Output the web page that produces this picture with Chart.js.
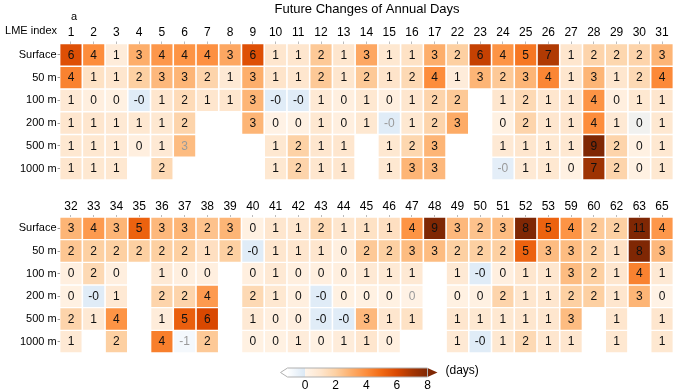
<!DOCTYPE html>
<html>
<head>
<meta charset="utf-8">
<script src="https://cdn.jsdelivr.net/npm/chart.js@4.4.0/dist/chart.umd.min.js"></script>
<style>
  html, body { margin: 0; padding: 0; background: #fff; }
  #wrap { position: relative; width: 700px; height: 392px; }
  canvas { position: absolute; left: 0; }
</style>
</head>
<body>
<div id="wrap">
  <canvas id="topChart" width="700" height="185" style="top:0px"></canvas>
  <canvas id="bottomChart" width="700" height="170" style="top:185px"></canvas>
  <canvas id="barChart" width="700" height="37" style="top:355px"></canvas>
</div>
<script>
// depth levels (rows)
const depths = ['Surface', '50 m', '100 m', '200 m', '500 m', '1000 m'];

// LME indices (columns)
const topLme = ['1','2','3','4','5','6','7','8','9','10','11','12','13','14','15','16','17','22','23','24','25','26','27','28','29','30','31'];
const bottomLme = ['32','33','34','35','36','37','38','39','40','41','42','43','44','45','46','47','48','49','50','51','52','53','59','60','62','63','65'];

// change of annual days, top panel (null = no data)
const topSurface = [5.8,4.0,0.6,3.0,3.7,3.8,3.9,3.2,5.8,1.0,1.0,2.2,1.0,3.2,0.9,1.2,3.0,2.0,6.4,3.8,4.6,6.8,1.0,1.8,1.7,1.8,2.8];
const top50 = [4.3,1.2,1.0,2.0,2.7,2.8,1.8,0.8,3.0,1.1,1.0,2.2,1.0,2.2,1.1,1.6,4.0,0.6,2.8,2.2,2.8,4.2,1.0,2.8,1.0,1.6,4.1];
const top100 = [0.8,0.4,0.3,-0.2,1.0,1.5,1.0,1.0,2.8,-0.2,-0.2,0.8,0.4,0.9,0.4,1.0,1.8,2.2,null,1.0,1.6,1.0,1.0,3.8,0.4,0.9,1.0];
const top200 = [1.0,1.0,0.8,0.9,0.9,1.8,null,null,2.8,0.2,0.3,0.9,0.4,0.9,-0.2,0.9,1.8,3.1,null,0.3,1.8,1.0,1.0,4.0,0.8,0,0.9];
const top500 = [0.9,0.9,0.8,0.4,0.8,2.6,null,null,null,0.9,1.9,1.0,1.0,null,0.9,1.7,2.8,null,null,0.8,1.0,0.9,0.9,8.7,1.8,0.3,0.9];
const top1000 = [1.0,0.9,0.9,null,1.6,null,null,null,null,0.9,1.8,1.0,1.0,null,0.9,2.8,2.7,null,null,-0.3,0.8,0.9,0.3,7.2,1.8,0.3,0.9];

// bottom panel
const botSurface = [2.8,3.6,2.8,5.2,2.7,2.8,2.4,2.8,0.3,1.0,1.0,1.6,1.0,1.2,1.3,3.8,9.0,2.7,2.4,2.6,8.2,5.2,3.8,2.2,2.0,11.0,3.7];
const bot50 = [2.3,2.0,2.0,2.0,2.0,2.0,1.3,2.0,-0.2,1.0,1.0,1.0,0.4,2.2,2.0,2.6,2.6,2.0,2.0,2.0,5.2,2.6,2.6,2.0,1.2,8.0,2.7];
const bot100 = [0.4,1.6,0.4,null,0.8,0.4,0.4,null,0.4,0.8,0.4,0.4,0.4,0.8,0.8,0.8,null,0.8,-0.2,0.4,1.0,1.0,2.6,2.0,1.0,4.3,0.8];
const bot200 = [0.3,-0.2,0.8,null,1.8,1.8,3.6,null,1.6,0.9,0.4,-0.2,0.3,0.3,0.3,0.2,null,0.3,0.3,1.8,1.0,1.0,2.0,2.0,1.0,2.8,0.2];
const bot500 = [1.8,0.8,3.8,null,0.6,5.3,6.0,null,0.8,0.4,0.4,-0.2,-0.2,2.7,1.0,1.2,null,1.0,0.9,0.9,1.0,1.0,2.6,null,1.0,null,1.0];
const bot1000 = [0.8,null,2.0,null,4.4,-0.8,2.2,null,0.3,0.3,0.6,0.3,0.6,1.0,0.4,null,null,0.8,-0.2,0.9,1.6,1.0,1.0,null,0.9,null,0.9];

// cells whose label is printed in grey
const topFaded = [['6','500 m'], ['15','200 m'], ['24','1000 m']];
const bottomFaded = [['37','1000 m'], ['47','200 m']];

// colour bar
const cbTicks = [0, 2, 4, 6, 8];
const cbMin = -1.15, cbMax = 8;

Chart.defaults.font.family = '"Liberation Sans", Arial, Helvetica, sans-serif';
Chart.defaults.color = '#000';

const orangeStops = ['#fff5eb','#fee6ce','#fdd0a2','#fdae6b','#fd8d3c','#f16913','#d94801','#a63603','#7f2704'];
const negNear = '#dae8f5';

function hexToRgb(h) {
    return [parseInt(h.slice(1,3),16), parseInt(h.slice(3,5),16), parseInt(h.slice(5,7),16)];
}
function mix(a, b, t) {
    const A = hexToRgb(a), B = hexToRgb(b);
    return 'rgb(' + A.map((c, i) => Math.round(c + (B[i] - c) * t)).join(',') + ')';
}
function colorFor(v) {
    if (v === null) return 'rgba(0,0,0,0)';
    if (v === 0) return '#f1f1ef'; // exact zero shows neutral
    if (v < 0) return mix(negNear, '#ffffff', Math.min(-v / -cbMin, 1));
    const s = Math.min(v, 8);
    const i = Math.floor(s);
    if (i >= 8) return orangeStops[8];
    return mix(orangeStops[i], orangeStops[i + 1], s - i);
}
function fmt(v) {
    const r = Math.round(v);
    if (r === 0 && v < 0) return '-0';
    return String(r);
}

function buildDatasets(rows, lme, faded) {
    return rows.map((vals, r) => ({
        label: depths[r],
        data: vals.map(v => v === null ? null : [r - 0.47, r + 0.47]),
        values: vals,
        faded: lme.map(l => faded.some(f => f[0] === l && f[1] === depths[r])),
        backgroundColor: vals.map(colorFor),
        borderWidth: 0,
        grouped: false,
        barPercentage: 1,
        categoryPercentage: 0.93
    }));
}

// numbers printed inside the cells
const cellText = {
    id: 'cellText',
    afterDatasetsDraw(chart) {
        const ctx = chart.ctx;
        ctx.save();
        ctx.font = '12px "Liberation Sans", Arial, sans-serif';
        ctx.textAlign = 'center';
        ctx.textBaseline = 'middle';
        chart.data.datasets.forEach((ds, r) => {
            const meta = chart.getDatasetMeta(r);
            meta.data.forEach((bar, i) => {
                const v = ds.values[i];
                if (v === null) return;
                ctx.fillStyle = ds.faded[i] ? '#9a9a9a' : '#111';
                ctx.fillText(fmt(v), bar.x, (bar.y + bar.base) / 2 + 0.5);
            });
        });
        ctx.restore();
    }
};

const headerText = {
    id: 'headerText',
    afterDraw(chart) {
        const ctx = chart.ctx;
        ctx.save();
        ctx.fillStyle = '#000';
        ctx.textBaseline = 'middle';
        ctx.textAlign = 'center';
        ctx.font = '13px "Liberation Sans", Arial, sans-serif';
        ctx.fillText('Future Changes of Annual Days', 367, 9);
        ctx.font = '11px "Liberation Sans", Arial, sans-serif';
        ctx.fillText('a', 74, 17);
        ctx.textAlign = 'right';
        ctx.fillText('LME index', 57, 31);
        ctx.restore();
    }
};

function heatOptions(axisH, bottomPad) {
    return {
        responsive: false,
        animation: false,
        events: [],
        layout: { padding: { left: 0, right: 26.6, top: 0, bottom: bottomPad } },
        plugins: { legend: { display: false }, tooltip: { enabled: false } },
        scales: {
            x: {
                type: 'category',
                position: 'top',
                offset: true,
                grid: { display: true, drawOnChartArea: false, offset: false, tickLength: 2, color: '#bbb' },
                border: { display: false },
                ticks: { font: { size: 12 }, padding: 1.5, maxRotation: 0, autoSkip: false, color: '#000' },
                afterFit: s => { s.height = axisH; s.paddingLeft = 0; s.paddingRight = 0; }
            },
            y: {
                type: 'linear',
                reverse: true,
                min: -0.5,
                max: 5.5,
                afterBuildTicks: s => { s.ticks = depths.map((d, i) => ({ value: i })); },
                ticks: { callback: v => depths[v], font: { size: 11 }, padding: 1, color: '#000' },
                grid: { drawOnChartArea: false, tickLength: 2, color: '#999' },
                border: { display: false },
                afterFit: s => { s.width = 59.6; s.paddingTop = 0; s.paddingBottom = 0; }
            }
        }
    };
}

new Chart(document.getElementById('topChart'), {
    type: 'bar',
    data: {
        labels: topLme,
        datasets: buildDatasets([topSurface, top50, top100, top200, top500, top1000], topLme, topFaded)
    },
    options: heatOptions(43.5, 5),
    plugins: [cellText, headerText]
});

new Chart(document.getElementById('bottomChart'), {
    type: 'bar',
    data: {
        labels: bottomLme,
        datasets: buildDatasets([botSurface, bot50, bot100, bot200, bot500, bot1000], bottomLme, bottomFaded)
    },
    options: heatOptions(32, 2),
    plugins: [cellText]
});

// colour bar drawn along its own linear scale
const colorBar = {
    id: 'colorBar',
    beforeDatasetsDraw(chart) {
        const ctx = chart.ctx;
        const x = chart.scales.x;
        const { top, bottom } = chart.chartArea;
        const mid = (top + bottom) / 2;
        const x0 = x.getPixelForValue(cbMin), x8 = x.getPixelForValue(cbMax);
        const span = cbMax - cbMin;
        const g = ctx.createLinearGradient(x0, 0, x8, 0);
        g.addColorStop(0, '#ffffff');
        g.addColorStop((0 - cbMin) / span - 0.0001, negNear);
        orangeStops.forEach((c, i) => g.addColorStop((i - cbMin) / span, c));
        ctx.save();
        ctx.fillStyle = g;
        ctx.fillRect(x0, top, x8 - x0, bottom - top);
        // extensions
        ctx.fillStyle = '#ffffff';
        ctx.beginPath();
        ctx.moveTo(x0, top); ctx.lineTo(x0 - 7, mid); ctx.lineTo(x0, bottom); ctx.closePath();
        ctx.fill();
        ctx.fillStyle = orangeStops[8];
        ctx.beginPath();
        ctx.moveTo(x8, top); ctx.lineTo(x8 + 10, mid); ctx.lineTo(x8, bottom); ctx.closePath();
        ctx.fill();
        // outline
        ctx.strokeStyle = '#b0b0b0';
        ctx.lineWidth = 1;
        ctx.beginPath();
        ctx.moveTo(x8, top); ctx.lineTo(x0, top); ctx.lineTo(x0 - 7, mid); ctx.lineTo(x0, bottom); ctx.lineTo(x8, bottom);
        ctx.stroke();
        ctx.beginPath();
        ctx.moveTo(x8, top); ctx.lineTo(x8, bottom);
        ctx.stroke();
        ctx.fillStyle = '#000';
        ctx.font = '12px "Liberation Sans", Arial, sans-serif';
        ctx.textAlign = 'left';
        ctx.textBaseline = 'middle';
        ctx.fillText('(days)', x8 + 18, mid - 2);
        ctx.restore();
    }
};

new Chart(document.getElementById('barChart'), {
    type: 'bar',
    data: { labels: [], datasets: [] },
    options: {
        responsive: false,
        animation: false,
        events: [],
        layout: { padding: { left: 270, right: 255, top: 13, bottom: 0 } },
        plugins: { legend: { display: false }, tooltip: { enabled: false } },
        scales: {
            x: {
                type: 'linear',
                min: cbMin,
                max: cbMax,
                afterBuildTicks: s => { s.ticks = cbTicks.map(v => ({ value: v })); },
                grid: { display: false, drawTicks: false, tickLength: 0 },
                border: { display: false },
                ticks: { font: { size: 12 }, padding: 1, color: '#000' },
                afterFit: s => { s.height = 15; s.paddingLeft = 0; s.paddingRight = 0; }
            },
            y: { display: false }
        }
    },
    plugins: [colorBar]
});
</script>
</body>
</html>
